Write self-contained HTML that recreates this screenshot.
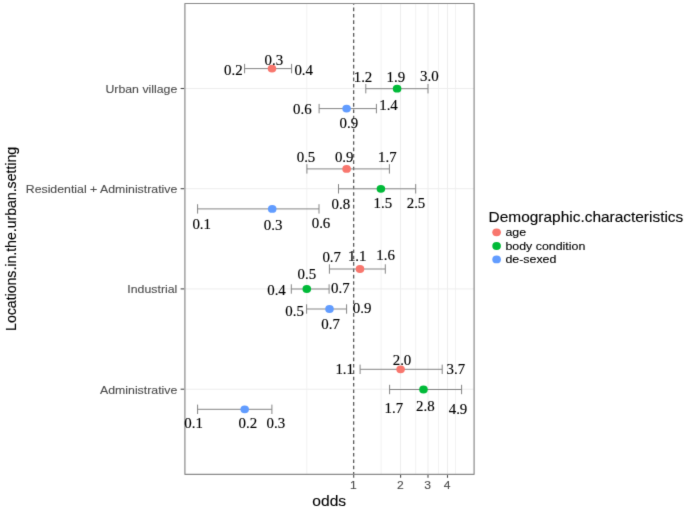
<!DOCTYPE html>
<html><head><meta charset="utf-8"><title>odds plot</title>
<style>
html,body{margin:0;padding:0;background:#fff;}
body{width:685px;height:510px;overflow:hidden;}
svg{display:block;}
.sf{font-family:"Liberation Serif","Times New Roman",serif;fill:#000;stroke:#000;stroke-width:0.15px;}
.ss{font-family:"Liberation Sans",Arial,Helvetica,sans-serif;}
.ax{stroke:#4d4d4d;stroke-width:0.12px;}
.bk{stroke:#000;stroke-width:0.12px;}
</style></head><body>
<svg width="685" height="510" viewBox="0 0 685 510">
<defs><filter id="soft" filterUnits="userSpaceOnUse" x="0" y="0" width="685" height="510" color-interpolation-filters="sRGB"><feConvolveMatrix order="3" kernelMatrix="0.0100 0.0800 0.0100 0.0800 0.6400 0.0800 0.0100 0.0800 0.0100" divisor="1" edgeMode="duplicate" preserveAlpha="true"/></filter></defs>
<g filter="url(#soft)">
<rect x="0" y="0" width="685" height="510" fill="#ffffff"/>
<g fill="none" stroke-width="1">
<line x1="306.8" y1="3.5" x2="306.8" y2="474.3" stroke="#f2f2f2"/>
<line x1="381.1" y1="3.5" x2="381.1" y2="474.3" stroke="#f2f2f2"/>
<line x1="415.7" y1="3.5" x2="415.7" y2="474.3" stroke="#f2f2f2"/>
<line x1="438.5" y1="3.5" x2="438.5" y2="474.3" stroke="#f2f2f2"/>
<line x1="455.5" y1="3.5" x2="455.5" y2="474.3" stroke="#f2f2f2"/>
<line x1="400.6" y1="3.5" x2="400.6" y2="474.3" stroke="#ededed"/>
<line x1="428.0" y1="3.5" x2="428.0" y2="474.3" stroke="#ededed"/>
<line x1="447.5" y1="3.5" x2="447.5" y2="474.3" stroke="#ededed"/>
<line x1="184.9" y1="88.5" x2="474.15" y2="88.5" stroke="#ededed"/>
<line x1="184.9" y1="188.7" x2="474.15" y2="188.7" stroke="#ededed"/>
<line x1="184.9" y1="288.9" x2="474.15" y2="288.9" stroke="#ededed"/>
<line x1="184.9" y1="389.2" x2="474.15" y2="389.2" stroke="#ededed"/>
</g>
<clipPath id="pc"><rect x="184.9" y="3.5" width="289.2" height="470.8"/></clipPath>
<line clip-path="url(#pc)" x1="353.7" y1="1.24" x2="353.7" y2="480" stroke="#444" stroke-width="1.15" stroke-dasharray="3.6 2.763"/>
<g stroke="#858585" stroke-width="1.0" fill="none">
<path d="M244.6 63.9V73.3M291.6 63.9V73.3M244.6 68.6H291.6"/>
<path d="M365.8 84.0V93.4M428.0 84.0V93.4M365.8 88.7H428.0"/>
<path d="M319.1 103.9V113.3M376.4 103.9V113.3M319.1 108.6H376.4"/>
<path d="M306.9 164.2V173.6M389.4 164.2V173.6M306.9 168.9H389.4"/>
<path d="M338.5 184.1V193.5M415.7 184.1V193.5M338.5 188.8H415.7"/>
<path d="M197.6 204.2V213.6M319.0 204.2V213.6M197.6 208.9H319.0"/>
<path d="M329.4 264.3V273.7M385.3 264.3V273.7M329.4 269.0H385.3"/>
<path d="M291.3 284.3V293.7M329.1 284.3V293.7M291.3 289.0H329.1"/>
<path d="M306.6 304.3V313.7M346.6 304.3V313.7M306.6 309.0H346.6"/>
<path d="M360.1 364.6V374.0M442.2 364.6V374.0M360.1 369.3H442.2"/>
<path d="M389.6 384.8V394.2M461.6 384.8V394.2M389.6 389.5H461.6"/>
<path d="M197.6 404.6V414.0M271.9 404.6V414.0M197.6 409.3H271.9"/>
</g>
<ellipse cx="272.0" cy="68.6" rx="4.3" ry="3.9" fill="#F8766D"/>
<ellipse cx="397.1" cy="88.7" rx="4.3" ry="3.9" fill="#00BA38"/>
<ellipse cx="346.6" cy="108.6" rx="4.3" ry="3.9" fill="#619CFF"/>
<ellipse cx="346.6" cy="168.9" rx="4.3" ry="3.9" fill="#F8766D"/>
<ellipse cx="380.9" cy="188.8" rx="4.3" ry="3.9" fill="#00BA38"/>
<ellipse cx="272.2" cy="208.9" rx="4.3" ry="3.9" fill="#619CFF"/>
<ellipse cx="360.0" cy="269.0" rx="4.3" ry="3.9" fill="#F8766D"/>
<ellipse cx="306.8" cy="289.0" rx="4.3" ry="3.9" fill="#00BA38"/>
<ellipse cx="329.5" cy="309.0" rx="4.3" ry="3.9" fill="#619CFF"/>
<ellipse cx="400.6" cy="369.3" rx="4.3" ry="3.9" fill="#F8766D"/>
<ellipse cx="423.5" cy="389.5" rx="4.3" ry="3.9" fill="#00BA38"/>
<ellipse cx="244.7" cy="409.3" rx="4.3" ry="3.9" fill="#619CFF"/>
<rect x="184.9" y="3.5" width="289.2" height="470.8" fill="none" stroke="#8a8a8a" stroke-width="1.2" stroke-linejoin="round"/>
<g class="sf" font-size="14.9" text-anchor="middle">
<text transform="translate(273.8 64.6) scale(1 0.95)">0.3</text>
<text transform="translate(233.4 75.1) scale(1 0.95)">0.2</text>
<text transform="translate(303.7 74.9) scale(1 0.95)">0.4</text>
<text transform="translate(363.0 82.4) scale(1 0.95)">1.2</text>
<text transform="translate(395.8 82.2) scale(1 0.95)">1.9</text>
<text transform="translate(429.4 81.2) scale(1 0.95)">3.0</text>
<text transform="translate(302.4 114.0) scale(1 0.95)">0.6</text>
<text transform="translate(348.9 127.7) scale(1 0.95)">0.9</text>
<text transform="translate(388.5 110.4) scale(1 0.95)">1.4</text>
<text transform="translate(306.0 162.0) scale(1 0.95)">0.5</text>
<text transform="translate(344.2 162.0) scale(1 0.95)">0.9</text>
<text transform="translate(387.4 162.0) scale(1 0.95)">1.7</text>
<text transform="translate(340.8 209.4) scale(1 0.95)">0.8</text>
<text transform="translate(382.9 207.5) scale(1 0.95)">1.5</text>
<text transform="translate(416.0 207.6) scale(1 0.95)">2.5</text>
<text transform="translate(201.7 228.5) scale(1 0.95)">0.1</text>
<text transform="translate(273.1 230.3) scale(1 0.95)">0.3</text>
<text transform="translate(321.0 228.2) scale(1 0.95)">0.6</text>
<text transform="translate(331.7 262.0) scale(1 0.95)">0.7</text>
<text transform="translate(357.2 261.3) scale(1 0.95)">1.1</text>
<text transform="translate(385.6 259.6) scale(1 0.95)">1.6</text>
<text transform="translate(306.9 279.4) scale(1 0.95)">0.5</text>
<text transform="translate(276.5 294.7) scale(1 0.95)">0.4</text>
<text transform="translate(340.3 292.9) scale(1 0.95)">0.7</text>
<text transform="translate(294.6 316.4) scale(1 0.95)">0.5</text>
<text transform="translate(330.6 329.4) scale(1 0.95)">0.7</text>
<text transform="translate(362.1 313.3) scale(1 0.95)">0.9</text>
<text transform="translate(344.7 373.5) scale(1 0.95)">1.1</text>
<text transform="translate(402.0 365.0) scale(1 0.95)">2.0</text>
<text transform="translate(455.8 373.5) scale(1 0.95)">3.7</text>
<text transform="translate(393.8 413.2) scale(1 0.95)">1.7</text>
<text transform="translate(425.4 410.7) scale(1 0.95)">2.8</text>
<text transform="translate(458.0 413.5) scale(1 0.95)">4.9</text>
<text transform="translate(193.6 427.8) scale(1 0.95)">0.1</text>
<text transform="translate(247.8 427.8) scale(1 0.95)">0.2</text>
<text transform="translate(275.9 427.8) scale(1 0.95)">0.3</text>
</g>
<g stroke="#4d4d4d" stroke-width="1.1">
<line x1="180.6" y1="88.5" x2="184.1" y2="88.5"/>
<line x1="180.6" y1="188.7" x2="184.1" y2="188.7"/>
<line x1="180.6" y1="288.9" x2="184.1" y2="288.9"/>
<line x1="180.6" y1="389.2" x2="184.1" y2="389.2"/>
<line x1="353.7" y1="475.1" x2="353.7" y2="477.8"/>
<line x1="400.6" y1="475.1" x2="400.6" y2="477.8"/>
<line x1="428.0" y1="475.1" x2="428.0" y2="477.8"/>
<line x1="447.5" y1="475.1" x2="447.5" y2="477.8"/>
</g>
<g class="ss ax" font-size="12.32" fill="#4d4d4d" text-anchor="end">
<text transform="translate(177.3 93.0) scale(1 0.92)">Urban village</text>
<text transform="translate(177.3 193.2) scale(1 0.92)">Residential + Administrative</text>
<text transform="translate(177.3 293.4) scale(1 0.92)">Industrial</text>
<text transform="translate(177.3 393.7) scale(1 0.92)">Administrative</text>
</g>
<g class="ss ax" font-size="12.1" fill="#4d4d4d" text-anchor="middle">
<text transform="translate(353.4 489.1) scale(1 0.92)">1</text>
<text transform="translate(400.3 489.1) scale(1 0.92)">2</text>
<text transform="translate(427.7 489.1) scale(1 0.92)">3</text>
<text transform="translate(447.2 489.1) scale(1 0.92)">4</text>
</g>
<text class="ss bk" font-size="15.6" fill="#000" text-anchor="middle" transform="translate(329.2 505.8) scale(1 0.89)">odds</text>
<text class="ss bk" font-size="15.4" fill="#000" text-anchor="middle" transform="translate(15.6 238.9) rotate(-90) scale(0.915 1)">Locations.in.the.urban.setting</text>
<text class="ss bk" font-size="15.45" fill="#000" transform="translate(488.6 222.0) scale(1 0.92)">Demographic.characteristics</text>
<ellipse cx="496.6" cy="232.3" rx="4.3" ry="3.9" fill="#F8766D"/>
<text class="ss bk" font-size="12.4" fill="#000" transform="translate(505.4 236.2) scale(1 0.92)">age</text>
<ellipse cx="496.6" cy="246.0" rx="4.3" ry="3.9" fill="#00BA38"/>
<text class="ss bk" font-size="12.4" fill="#000" transform="translate(505.4 249.9) scale(1 0.92)">body condition</text>
<ellipse cx="496.6" cy="259.4" rx="4.3" ry="3.9" fill="#619CFF"/>
<text class="ss bk" font-size="12.4" fill="#000" transform="translate(505.4 263.3) scale(1 0.92)">de-sexed</text>
</g>
</svg>
</body></html>
